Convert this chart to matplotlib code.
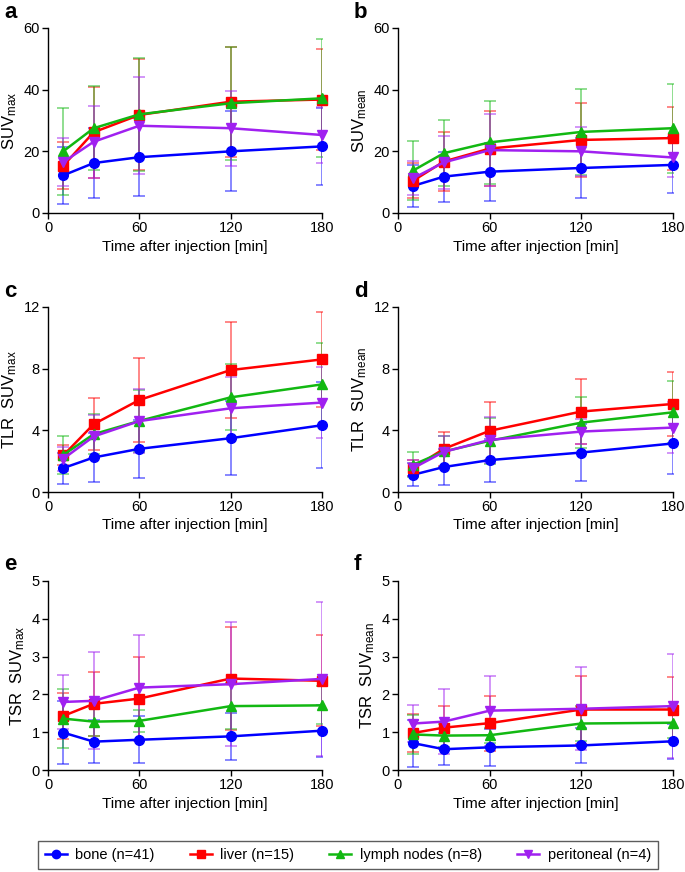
import matplotlib
matplotlib.use("Agg")
import matplotlib.pyplot as plt
from matplotlib.lines import Line2D

plt.rcParams['font.family'] = ['Liberation Sans', 'DejaVu Sans']
plt.rcParams['mathtext.fontset'] = 'custom'
plt.rcParams['mathtext.rm'] = 'Liberation Sans'
plt.rcParams['mathtext.it'] = 'Liberation Sans'

times = [10, 30, 60, 120, 180]
groups = ["bone (n=41)", "liver (n=15)", "lymph nodes (n=8)", "peritoneal (n=4)"]
colors = ["#0000ff", "#ff0000", "#12b812", "#a020f0"]
markers = ["o", "s", "^", "v"]

# panel a: SUVmax (mean, SD)
suvmax_mean = [[12.2, 16.2, 18.1, 20.0, 21.6],
               [15.3, 26.2, 31.8, 36.1, 36.8],
               [20.0, 27.5, 32.0, 35.6, 37.2],
               [16.5, 23.1, 28.3, 27.5, 25.3]]
suvmax_sd = [[9.3, 11.3, 12.6, 13.0, 12.6],
             [7.6, 14.8, 18.0, 17.8, 16.3],
             [14.2, 13.7, 18.3, 18.3, 19.1],
             [7.8, 11.6, 15.7, 12.1, 9.1]]

# panel b: SUVmean
suvmean_mean = [[8.8, 11.8, 13.4, 14.6, 15.6],
                [10.5, 16.7, 20.9, 23.7, 24.3],
                [13.8, 19.4, 22.9, 26.3, 27.5],
                [11.3, 16.4, 20.4, 20.0, 18.0]]
suvmean_sd = [[6.9, 8.1, 9.4, 9.7, 9.1],
              [5.6, 9.5, 12.3, 12.1, 10.2],
              [9.6, 10.6, 13.5, 13.9, 14.4],
              [5.6, 8.6, 11.7, 8.0, 6.2]]

# panel c: TLR SUVmax
tlrmax_mean = [[1.55, 2.24, 2.80, 3.49, 4.33],
               [2.37, 4.40, 5.97, 7.91, 8.60],
               [2.40, 3.75, 4.61, 6.14, 6.98],
               [2.15, 3.60, 4.60, 5.43, 5.80]]
tlrmax_sd = [[1.0, 1.6, 1.9, 2.4, 2.8],
             [0.65, 1.7, 2.7, 3.1, 3.1],
             [1.25, 1.3, 2.0, 2.15, 2.7],
             [0.8, 1.4, 2.1, 2.0, 2.3]]

# panel d: TLR SUVmean
tlrmean_mean = [[1.12, 1.62, 2.07, 2.56, 3.15],
                [1.55, 2.80, 3.97, 5.22, 5.71],
                [1.77, 2.63, 3.32, 4.50, 5.17],
                [1.55, 2.60, 3.38, 3.92, 4.18]]
tlrmean_sd = [[0.75, 1.15, 1.4, 1.83, 2.0],
              [0.5, 1.1, 1.9, 2.1, 2.1],
              [0.8, 1.0, 1.5, 1.65, 2.0],
              [0.5, 1.0, 1.5, 0.8, 1.65]]

# panel e: TSR SUVmax
tsrmax_mean = [[0.99, 0.75, 0.80, 0.89, 1.04],
               [1.43, 1.75, 1.89, 2.42, 2.36],
               [1.36, 1.28, 1.30, 1.69, 1.71],
               [1.80, 1.83, 2.18, 2.27, 2.41]]
tsrmax_sd = [[0.83, 0.56, 0.62, 0.63, 0.69],
             [0.62, 0.85, 1.1, 1.35, 1.2],
             [0.77, 0.37, 0.3, 0.6, 0.5],
             [0.71, 1.28, 1.4, 1.64, 2.04]]

# panel f: TSR SUVmean
tsrmean_mean = [[0.71, 0.55, 0.60, 0.65, 0.76],
                [0.98, 1.12, 1.24, 1.60, 1.60],
                [0.94, 0.91, 0.92, 1.23, 1.25],
                [1.23, 1.28, 1.57, 1.62, 1.69]]
tsrmean_sd = [[0.62, 0.42, 0.49, 0.46, 0.47],
              [0.5, 0.56, 0.73, 0.9, 0.85],
              [0.52, 0.3, 0.2, 0.45, 0.4],
              [0.5, 0.85, 0.93, 1.1, 1.38]]

panels = [
    ("a", "SUV$_{\\mathrm{max}}$", suvmax_mean, suvmax_sd, 60, [0, 20, 40, 60]),
    ("b", "SUV$_{\\mathrm{mean}}$", suvmean_mean, suvmean_sd, 60, [0, 20, 40, 60]),
    ("c", "TLR  SUV$_{\\mathrm{max}}$", tlrmax_mean, tlrmax_sd, 12, [0, 4, 8, 12]),
    ("d", "TLR  SUV$_{\\mathrm{mean}}$", tlrmean_mean, tlrmean_sd, 12, [0, 4, 8, 12]),
    ("e", "TSR  SUV$_{\\mathrm{max}}$", tsrmax_mean, tsrmax_sd, 5, [0, 1, 2, 3, 4, 5]),
    ("f", "TSR  SUV$_{\\mathrm{mean}}$", tsrmean_mean, tsrmean_sd, 5, [0, 1, 2, 3, 4, 5]),
]

W, H = 685, 872
fig = plt.figure(figsize=(W / 100, H / 100), dpi=100)

# axes boxes in pixels: left, top, right, bottom
boxes = [(48, 28, 322, 213), (398, 28, 673, 213),
         (48, 307, 322, 492), (398, 307, 673, 492),
         (48, 581, 322, 770), (398, 581, 673, 770)]

for (lab, ylab, means, sds, ymax, yt), (l, t, r, b) in zip(panels, boxes):
    ax = fig.add_axes([l / W, 1 - b / H, (r - l) / W, (b - t) / H])
    for i in range(4):
        ax.errorbar(times, means[i], yerr=sds[i], fmt="none", ecolor=colors[i],
                    alpha=0.55, elinewidth=1.2, capsize=4, capthick=1.2, zorder=2)
    for i in range(4):
        ax.plot(times, means[i], color=colors[i], marker=markers[i], markersize=7,
                linewidth=1.8, zorder=3, clip_on=False)
    ax.set_xlim(0, 180)
    ax.set_ylim(0, ymax)
    ax.set_xticks([0, 60, 120, 180])
    ax.set_yticks(yt)
    for s in ["top", "right"]:
        ax.spines[s].set_visible(False)
    for s in ["left", "bottom"]:
        ax.spines[s].set_linewidth(1.0)
    ax.tick_params(direction="out", length=4, width=1, labelsize=10.5, pad=2)
    ax.set_xlabel("Time after injection [min]", fontsize=11, labelpad=3)
    ax.set_ylabel(ylab, fontsize=12, labelpad=3)
    fig.text((l - 44) / W, 1 - (t - 16) / H, lab, fontsize=16, fontweight="bold",
             va="center", ha="left")

handles = [Line2D([0], [0], color=colors[i], marker=markers[i], markersize=6,
                  linewidth=1.8) for i in range(4)]
leg = fig.legend(handles, groups, loc="center", bbox_to_anchor=(348 / W, 1 - 855 / H),
                 ncol=4, frameon=True, fancybox=False, fontsize=10.5,
                 handlelength=1.5, handletextpad=0.6, columnspacing=2.4,
                 borderpad=0.45, borderaxespad=0)
leg.get_frame().set_edgecolor("#333333")
leg.get_frame().set_linewidth(1.0)

fig.savefig("out.png", dpi=100)
